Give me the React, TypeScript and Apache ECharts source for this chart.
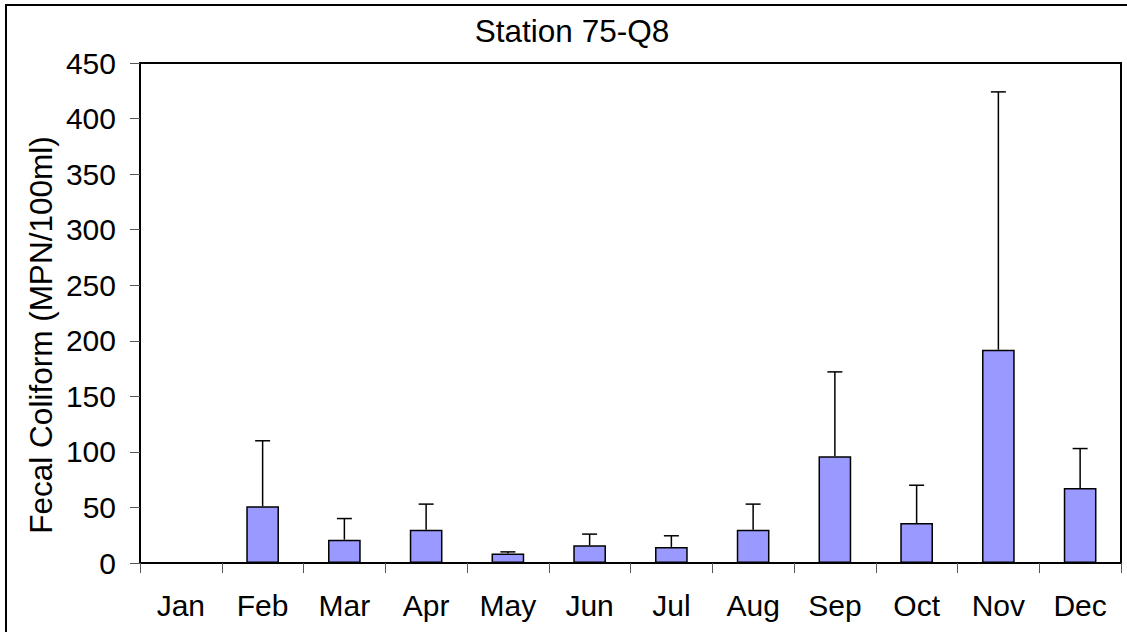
import React, { useEffect, useRef } from "react";
import * as echarts from "echarts";

const months = ["Jan", "Feb", "Mar", "Apr", "May", "Jun", "Jul", "Aug", "Sep", "Oct", "Nov", "Dec"];
const meanValues = [0, 51, 21, 30, 8.5, 16, 14.5, 30, 96, 36, 192, 67.5];
const upperValues = [null, 110, 40, 53, 10, 26, 24.5, 53, 172, 70, 424, 103];
const titleText = "Station 75-Q8";
const yAxisTitle = "Fecal Coliform (MPN/100ml)";

const FONT = "'Liberation Sans', Arial, sans-serif";

export default function App() {
  const ref = useRef<HTMLDivElement>(null);
  useEffect(() => {
    const chart = echarts.init(ref.current!, null, { renderer: "svg" });
    const errData = months
      .map((m, i) => (upperValues[i] == null ? null : [i, meanValues[i], upperValues[i]]))
      .filter((d) => d !== null);
    chart.setOption({
      animation: false,
      backgroundColor: "#fff",
      grid: {
        left: 140,
        right: 6,
        top: 63,
        bottom: 69,
        show: true,
        borderColor: "#000",
        borderWidth: 2,
        backgroundColor: "transparent",
      },
      graphic: [
        {
          type: "rect",
          shape: { x: 6, y: 5, width: 1200, height: 700 },
          style: { fill: "none", stroke: "#000", lineWidth: 2 },
          z: -10,
        },
        {
          type: "text",
          x: 572,
          y: 31,
          style: {
            text: titleText,
            font: `31.5px ${FONT}`,
            fill: "#000",
            align: "center",
            verticalAlign: "middle",
          },
        },
        {
          type: "text",
          x: 41,
          y: 335,
          rotation: Math.PI / 2,
          style: {
            text: yAxisTitle,
            font: `31.5px ${FONT}`,
            fill: "#000",
            align: "center",
            verticalAlign: "middle",
          },
        },
      ],
      xAxis: {
        type: "category",
        data: months,
        boundaryGap: true,
        axisLine: { show: true, lineStyle: { color: "#000", width: 2 } },
        axisTick: { show: true, length: 10, lineStyle: { color: "#555", width: 1 } },
        axisLabel: { color: "#000", fontSize: 30, fontFamily: FONT, margin: 27 },
        splitLine: { show: false },
      },
      yAxis: {
        type: "value",
        min: 0,
        max: 450,
        interval: 50,
        axisLine: { show: true, lineStyle: { color: "#000", width: 2 } },
        axisTick: { show: true, length: 10, lineStyle: { color: "#555", width: 1 } },
        axisLabel: { color: "#000", fontSize: 30, fontFamily: FONT, margin: 24 },
        splitLine: { show: false },
      },
      series: [
        {
          type: "bar",
          data: meanValues,
          barWidth: "40%",
          itemStyle: { color: "#9999FF", borderColor: "#000", borderWidth: 1.5 },
        },
        {
          type: "custom",
          data: errData,
          z: 5,
          renderItem: (params: any, api: any) => {
            const idx = api.value(0);
            const base = api.coord([idx, api.value(1)]);
            const top = api.coord([idx, api.value(2)]);
            const half = 7.5;
            const style = { stroke: "#000", lineWidth: 1.5 };
            return {
              type: "group",
              children: [
                { type: "line", shape: { x1: base[0], y1: base[1], x2: top[0], y2: top[1] }, style },
                { type: "line", shape: { x1: top[0] - half, y1: top[1], x2: top[0] + half, y2: top[1] }, style },
              ],
            };
          },
        },
      ],
    });
    return () => chart.dispose();
  }, []);
  return (
    <div
      ref={ref}
      style={{ position: "absolute", left: 0, top: 0, width: 1127, height: 632 }}
    />
  );
}
